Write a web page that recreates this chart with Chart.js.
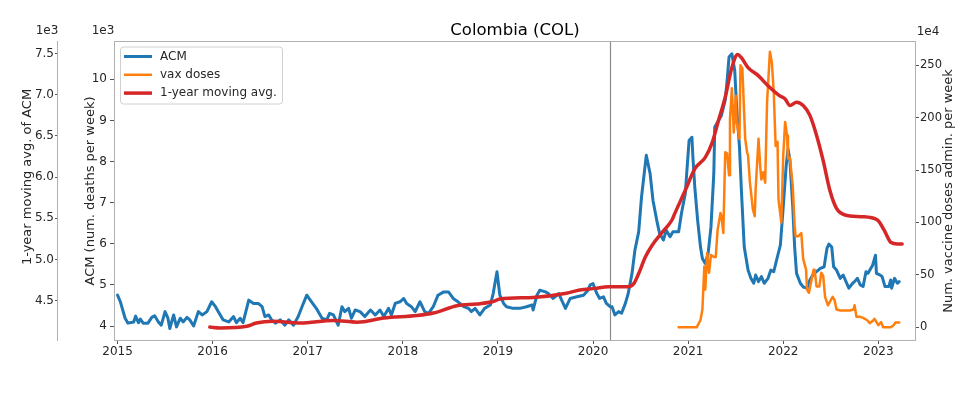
<!DOCTYPE html>
<html>
<head>
<meta charset="utf-8">
<title>Colombia (COL)</title>
<script src="https://cdn.jsdelivr.net/npm/chart.js@4.4.1/dist/chart.umd.min.js"></script>
<style>
    body { margin: 0; background: #ffffff; }
    canvas { display: block; }
</style>
</head>
<body>
<canvas id="chart" width="967" height="394"></canvas>
<script>
// Ticks
const yearTicks = [2015, 2016, 2017, 2018, 2019, 2020, 2021, 2022, 2023];
const acmTicks = [4, 5, 6, 7, 8, 9, 10];              // x 1e3
const avgTicks = [4.5, 5.0, 5.5, 6.0, 6.5, 7.0, 7.5]; // x 1e3
const vaxTicks = [0, 50, 100, 150, 200, 250];         // x 1e4

// Start of the pandemic (vertical marker)
const covidStart = 2020.18;

// ACM, deaths per week (thousands)
const acmYears = [
    2015.00, 2015.03, 2015.04, 2015.08, 2015.11, 2015.17, 2015.19, 2015.22, 2015.24, 2015.27,
    2015.32, 2015.36, 2015.39, 2015.43, 2015.46, 2015.50, 2015.53, 2015.55, 2015.59, 2015.62,
    2015.66, 2015.69, 2015.73, 2015.76, 2015.80, 2015.85, 2015.89, 2015.94, 2015.99, 2016.03,
    2016.06, 2016.11, 2016.17, 2016.22, 2016.25, 2016.29, 2016.32, 2016.38, 2016.43, 2016.48,
    2016.52, 2016.55, 2016.59, 2016.62, 2016.66, 2016.71, 2016.76, 2016.80, 2016.85, 2016.90,
    2016.94, 2016.99, 2017.04, 2017.09, 2017.15, 2017.20, 2017.23, 2017.27, 2017.32, 2017.36,
    2017.39, 2017.43, 2017.46, 2017.50, 2017.55, 2017.60, 2017.66, 2017.71, 2017.76, 2017.80,
    2017.85, 2017.88, 2017.92, 2017.97, 2018.01, 2018.04, 2018.09, 2018.13, 2018.18, 2018.23,
    2018.27, 2018.32, 2018.37, 2018.43, 2018.48, 2018.53, 2018.58, 2018.64, 2018.69, 2018.72,
    2018.76, 2018.81, 2018.86, 2018.92, 2018.95, 2018.99, 2019.02, 2019.06, 2019.09, 2019.16,
    2019.23, 2019.30, 2019.36, 2019.37, 2019.41, 2019.44, 2019.50, 2019.53, 2019.58, 2019.64,
    2019.67, 2019.71, 2019.76, 2019.83, 2019.90, 2019.94, 2019.97, 2020.00, 2020.04, 2020.07,
    2020.11, 2020.14, 2020.18, 2020.20, 2020.23, 2020.27, 2020.30, 2020.34, 2020.37, 2020.41,
    2020.44, 2020.48, 2020.51, 2020.55, 2020.56, 2020.60, 2020.63, 2020.67, 2020.70, 2020.74,
    2020.77, 2020.81, 2020.84, 2020.90, 2020.93, 2020.97, 2020.99, 2021.01, 2021.04, 2021.05,
    2021.07, 2021.10, 2021.13, 2021.15, 2021.18, 2021.21, 2021.24, 2021.27, 2021.28, 2021.32,
    2021.35, 2021.39, 2021.41, 2021.43, 2021.46, 2021.49, 2021.51, 2021.54, 2021.56, 2021.59,
    2021.63, 2021.66, 2021.69, 2021.71, 2021.74, 2021.77, 2021.80, 2021.84, 2021.87, 2021.90,
    2021.93, 2021.97, 2022.00, 2022.03, 2022.05, 2022.07, 2022.10, 2022.12, 2022.14, 2022.18,
    2022.21, 2022.25, 2022.28, 2022.32, 2022.35, 2022.39, 2022.43, 2022.46, 2022.48, 2022.51,
    2022.53, 2022.56, 2022.60, 2022.63, 2022.66, 2022.69, 2022.73, 2022.75, 2022.78, 2022.81,
    2022.84, 2022.87, 2022.89, 2022.92, 2022.94, 2022.97, 2022.98, 2023.02, 2023.04, 2023.07,
    2023.11, 2023.13, 2023.14, 2023.17, 2023.20, 2023.22
];
const acmValues = [
    4.75, 4.59, 4.51, 4.19, 4.07, 4.10, 4.24, 4.08, 4.17, 4.07,
    4.07, 4.21, 4.25, 4.10, 4.02, 4.35, 4.19, 3.94, 4.27, 3.98,
    4.19, 4.10, 4.21, 4.15, 4.00, 4.35, 4.27, 4.35, 4.59, 4.47,
    4.35, 4.15, 4.10, 4.23, 4.08, 4.19, 4.08, 4.63, 4.55, 4.55,
    4.47, 4.23, 4.27, 4.15, 4.07, 4.15, 4.02, 4.15, 4.02, 4.23,
    4.47, 4.75, 4.59, 4.43, 4.19, 4.15, 4.31, 4.27, 4.02, 4.47,
    4.35, 4.43, 4.19, 4.39, 4.35, 4.23, 4.39, 4.27, 4.39, 4.23,
    4.43, 4.27, 4.55, 4.59, 4.67, 4.55, 4.47, 4.35, 4.59, 4.35,
    4.31, 4.47, 4.75, 4.83, 4.83, 4.67, 4.59, 4.47, 4.43, 4.35,
    4.43, 4.27, 4.43, 4.51, 4.79, 5.32, 4.75, 4.55, 4.47, 4.43,
    4.43, 4.47, 4.51, 4.39, 4.75, 4.87, 4.83, 4.79, 4.67, 4.79,
    4.63, 4.43, 4.67, 4.71, 4.75, 4.85, 5.00, 5.03, 4.79, 4.67,
    4.71, 4.55, 4.47, 4.47, 4.27, 4.35, 4.31, 4.55, 4.79, 5.28,
    5.84, 6.29, 7.14, 7.95, 8.15, 7.71, 7.06, 6.57, 6.25, 6.09,
    6.33, 6.17, 6.29, 6.29, 6.74, 7.22, 7.87, 8.51, 8.59, 8.11,
    7.38, 6.57, 5.92, 5.64, 5.52, 5.76, 6.41, 7.71, 8.84, 9.00,
    9.12, 9.49, 9.97, 10.54, 10.62, 10.21, 9.32, 8.35, 7.30, 5.92,
    5.36, 5.16, 5.04, 5.24, 5.08, 5.20, 5.04, 5.16, 5.36, 5.32,
    5.60, 5.97, 6.90, 7.87, 8.31, 8.03, 6.90, 5.92, 5.28, 5.04,
    4.95, 4.92, 5.12, 5.28, 5.32, 5.40, 5.44, 5.89, 5.99, 5.92,
    5.44, 5.36, 5.16, 5.24, 5.08, 4.92, 5.04, 5.08, 5.16, 5.00,
    4.96, 5.32, 5.28, 5.40, 5.48, 5.72, 5.28, 5.24, 5.20, 4.96,
    4.96, 5.12, 4.92, 5.16, 5.04, 5.08
];

// Vaccine doses administered per week (x 1e4)
const vaxYears = [
    2020.90, 2021.09, 2021.13, 2021.15, 2021.17, 2021.18, 2021.20, 2021.22, 2021.24, 2021.27,
    2021.29, 2021.31, 2021.34, 2021.35, 2021.37, 2021.39, 2021.41, 2021.43, 2021.44, 2021.46,
    2021.48, 2021.50, 2021.51, 2021.54, 2021.55, 2021.57, 2021.60, 2021.62, 2021.63, 2021.65,
    2021.68, 2021.70, 2021.71, 2021.72, 2021.74, 2021.76, 2021.77, 2021.79, 2021.81, 2021.83,
    2021.84, 2021.86, 2021.88, 2021.90, 2021.92, 2021.94, 2021.95, 2021.98, 2022.00, 2022.02,
    2022.04, 2022.05, 2022.07, 2022.10, 2022.12, 2022.13, 2022.16, 2022.19, 2022.21, 2022.24,
    2022.25, 2022.27, 2022.29, 2022.32, 2022.33, 2022.35, 2022.38, 2022.40, 2022.42, 2022.44,
    2022.47, 2022.50, 2022.52, 2022.54, 2022.56, 2022.60, 2022.70, 2022.74, 2022.75, 2022.77,
    2022.81, 2022.84, 2022.88, 2022.91, 2022.94, 2022.96, 2022.98, 2023.00, 2023.03, 2023.05,
    2023.13, 2023.16, 2023.18, 2023.22
];
const vaxValues = [
    0, 0, 7, 17, 58, 36, 71, 52, 69, 67,
    67, 93, 109, 106, 90, 167, 166, 145, 199, 228,
    186, 221, 196, 180, 250, 247, 180, 167, 164, 138,
    113, 106, 132, 148, 180, 151, 141, 148, 138, 215,
    231, 263, 253, 225, 173, 177, 122, 100, 164, 196,
    183, 161, 162, 135, 97, 87, 87, 90, 65, 55,
    36, 33, 42, 55, 55, 39, 39, 52, 49, 29,
    21, 26, 29, 26, 17, 16, 16, 17, 21, 10,
    10, 9, 7, 4, 6, 8, 5, 2, 5, 0,
    0, 2, 4.5, 4.5
];

// 1-year moving average of ACM (thousands)
const avgYears = [
    2015.97, 2016.08, 2016.36, 2016.46, 2016.64, 2016.92, 2017.27, 2017.52, 2017.80, 2018.15,
    2018.32, 2018.57, 2018.78, 2018.95, 2019.02, 2019.37, 2019.72, 2019.86, 2020.02, 2020.16,
    2020.37, 2020.43, 2020.48, 2020.55, 2020.62, 2020.72, 2020.83, 2020.86, 2020.97, 2021.07,
    2021.18, 2021.25, 2021.32, 2021.39, 2021.46, 2021.52, 2021.56, 2021.63, 2021.74, 2021.84,
    2021.96, 2022.02, 2022.07, 2022.14, 2022.21, 2022.28, 2022.35, 2022.42, 2022.49, 2022.56,
    2022.65, 2022.82, 2022.99, 2023.06, 2023.13, 2023.20, 2023.25
];
const avgValues = [
    4.18, 4.17, 4.19, 4.23, 4.25, 4.23, 4.26, 4.24, 4.29, 4.32,
    4.35, 4.44, 4.46, 4.49, 4.52, 4.54, 4.59, 4.63, 4.65, 4.67,
    4.67, 4.71, 4.83, 5.03, 5.17, 5.32, 5.48, 5.56, 5.84, 6.10,
    6.24, 6.41, 6.69, 6.97, 7.33, 7.49, 7.45, 7.33, 7.23, 7.11,
    6.99, 6.95, 6.87, 6.91, 6.87, 6.75, 6.51, 6.20, 5.84, 5.62,
    5.54, 5.52, 5.48, 5.36, 5.21, 5.19, 5.19
];

const FONT = "'DejaVu Sans', sans-serif";
const TEXT = "#262626";
const SPINE = "#b0b0b0";

function toPoints(xs, ys) {
    return xs.map((x, i) => ({ x: x, y: ys[i] }));
}

function fixedTicks(values) {
    return scale => { scale.ticks = values.map(v => ({ value: v })); };
}

function vLine(ctx, x, y1, y2) {
    ctx.beginPath();
    ctx.moveTo(x, y1);
    ctx.lineTo(x, y2);
    ctx.stroke();
}

function rotatedText(ctx, text, x, y) {
    ctx.save();
    ctx.translate(x, y);
    ctx.rotate(-Math.PI / 2);
    ctx.fillText(text, 0, 0);
    ctx.restore();
}

// Spines, titles, offsets, legend and the pandemic marker
const decorations = {
    id: "decorations",
    beforeDatasetsDraw(chart) {
        const { ctx, chartArea, scales } = chart;
        const px = Math.round(scales.x.getPixelForValue(covidStart)) + 0.5;
        ctx.save();
        ctx.strokeStyle = "#8c8c8c";
        ctx.lineWidth = 1.2;
        vLine(ctx, px, chartArea.top, chartArea.bottom);
        ctx.restore();
    },
    afterDraw(chart) {
        const { ctx, chartArea, scales } = chart;
        const { left, right, top, bottom } = chartArea;
        ctx.save();

        // spines
        ctx.strokeStyle = SPINE;
        ctx.lineWidth = 1;
        vLine(ctx, Math.round(scales.yAvg.right) - 0.5, top, bottom);
        vLine(ctx, Math.round(left) + 0.5, top, bottom);
        vLine(ctx, Math.round(right) - 0.5, top, bottom);
        ctx.beginPath();
        ctx.moveTo(left, Math.round(top) + 0.5);
        ctx.lineTo(right, Math.round(top) + 0.5);
        ctx.moveTo(left, Math.round(bottom) - 0.5);
        ctx.lineTo(right, Math.round(bottom) - 0.5);
        ctx.stroke();

        // title
        ctx.fillStyle = "#000";
        ctx.font = "16.5px " + FONT;
        ctx.textAlign = "center";
        ctx.textBaseline = "middle";
        ctx.fillText("Colombia (COL)", (left + right) / 2, 31);

        // scale offsets
        ctx.fillStyle = TEXT;
        ctx.font = "12px " + FONT;
        ctx.fillText("1e3", 47, 31);
        ctx.fillText("1e3", 103, 31);
        ctx.fillText("1e4", 928, 32);

        // axis titles
        ctx.font = "13px " + FONT;
        rotatedText(ctx, "1-year moving avg. of ACM", 27.5, 177);
        rotatedText(ctx, "ACM (num. deaths per week)", 91, (top + bottom) / 2);
        rotatedText(ctx, "Num. vaccine doses admin. per week", 949, (top + bottom) / 2);

        // legend
        const bx = left + 6, by = top + 5.5;
        const bw = 162, bh = 57;
        ctx.beginPath();
        ctx.roundRect(bx + 0.5, by + 0.5, bw, bh, 3);
        ctx.fillStyle = "rgba(255,255,255,0.8)";
        ctx.fill();
        ctx.strokeStyle = "#d0d0d0";
        ctx.stroke();
        ctx.font = "12px " + FONT;
        ctx.textAlign = "left";
        chart.data.datasets.forEach((ds, i) => {
            const y = by + 10 + i * 18.3;
            ctx.strokeStyle = ds.borderColor;
            ctx.lineWidth = ds.borderWidth;
            ctx.beginPath();
            ctx.moveTo(bx + 4, y);
            ctx.lineTo(bx + 32, y);
            ctx.stroke();
            ctx.fillStyle = TEXT;
            ctx.fillText(ds.label, bx + 40, y);
        });
        ctx.restore();
    }
};

const tickFont = { family: FONT, size: 12 };
const axisGrid = { drawOnChartArea: false, drawTicks: true, tickLength: 4, color: "#555" };
const noBorder = { display: false };

const ctx = document.getElementById("chart").getContext("2d");
new Chart(ctx, {
    type: "line",
    data: {
        datasets: [
            {
                label: "ACM",
                data: toPoints(acmYears, acmValues),
                yAxisID: "yAcm",
                borderColor: "#1f77b4",
                borderWidth: 3,
                order: 2
            },
            {
                label: "vax doses",
                data: toPoints(vaxYears, vaxValues),
                yAxisID: "yVax",
                borderColor: "#ff7f0e",
                borderWidth: 2.5,
                order: 1
            },
            {
                label: "1-year moving avg.",
                data: toPoints(avgYears, avgValues),
                yAxisID: "yAvg",
                borderColor: "#d62728",
                borderWidth: 3.5,
                cubicInterpolationMode: "monotone",
                order: 0
            }
        ]
    },
    options: {
        responsive: false,
        animation: false,
        events: [],
        elements: {
            point: { radius: 0 },
            line: { tension: 0, borderJoinStyle: "round", borderCapStyle: "round", fill: false }
        },
        layout: { padding: { top: 41, bottom: 23, left: 0, right: 0 } },
        plugins: {
            legend: { display: false },
            title: { display: false },
            tooltip: { enabled: false }
        },
        scales: {
            x: {
                type: "linear",
                min: 2014.963,
                max: 2023.396,
                afterBuildTicks: fixedTicks(yearTicks),
                afterFit: s => { s.height = 30; },
                ticks: { font: tickFont, color: TEXT, padding: 1, maxRotation: 0, autoSkip: false, callback: v => String(v) },
                grid: Object.assign({}, axisGrid, { tickLength: 3 }),
                border: noBorder
            },
            yAvg: {
                position: "left",
                weight: 1,
                min: 4.011,
                max: 7.653,
                afterBuildTicks: fixedTicks(avgTicks),
                afterFit: s => { s.width = 58; },
                ticks: { font: tickFont, color: TEXT, padding: 1, callback: v => v.toFixed(1) },
                grid: Object.assign({}, axisGrid, { tickLength: 3 }),
                border: noBorder
            },
            yAcm: {
                position: "left",
                weight: 0,
                min: 3.636,
                max: 10.930,
                afterBuildTicks: fixedTicks(acmTicks),
                afterFit: s => { s.width = 56; },
                ticks: { font: tickFont, color: TEXT, padding: 3, callback: v => String(v) },
                grid: axisGrid,
                border: noBorder
            },
            yVax: {
                position: "right",
                min: -13.06,
                max: 273.2,
                afterBuildTicks: fixedTicks(vaxTicks),
                afterFit: s => { s.width = 51; },
                ticks: { font: { family: FONT, size: 11.5 }, color: TEXT, padding: 1, callback: v => String(v) },
                grid: Object.assign({}, axisGrid, { tickLength: 3 }),
                border: noBorder
            }
        }
    },
    plugins: [decorations]
});
</script>
</body>
</html>
